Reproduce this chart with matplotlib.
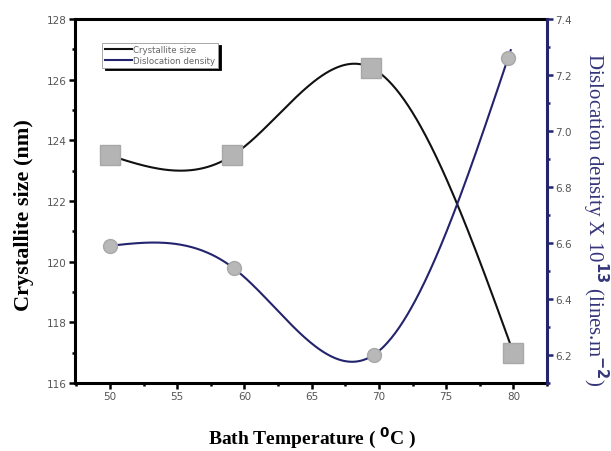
import numpy as np
import matplotlib
matplotlib.use("Agg")
import matplotlib.pyplot as plt
from matplotlib.ticker import MultipleLocator, FormatStrFormatter

# Data
temperature_size = [50, 59.1, 69.4, 80]
crystallite_size = [123.5, 123.5, 126.4, 117.0]
temperature_disl = [50, 59.2, 69.6, 79.6]
dislocation_density = [6.59, 6.51, 6.20, 7.26]
x_ticks = [50, 55, 60, 65, 70, 75, 80]
left_ticks = [116, 118, 120, 122, 124, 126, 128]
right_ticks = [6.2, 6.4, 6.6, 6.8, 7.0, 7.2, 7.4]


def natural_spline(x, y, xs):
    x = np.asarray(x, float); y = np.asarray(y, float)
    n = len(x)
    h = np.diff(x)
    A = np.zeros((n, n)); b = np.zeros(n)
    A[0, 0] = 1; A[-1, -1] = 1
    for i in range(1, n - 1):
        A[i, i - 1] = h[i - 1]
        A[i, i] = 2 * (h[i - 1] + h[i])
        A[i, i + 1] = h[i]
        b[i] = 6 * ((y[i + 1] - y[i]) / h[i] - (y[i] - y[i - 1]) / h[i - 1])
    M = np.linalg.solve(A, b)
    out = np.empty_like(xs)
    for k, xv in enumerate(xs):
        i = min(max(np.searchsorted(x, xv) - 1, 0), n - 2)
        t1 = x[i + 1] - xv; t0 = xv - x[i]
        out[k] = (M[i] * t1 ** 3 / (6 * h[i]) + M[i + 1] * t0 ** 3 / (6 * h[i])
                  + (y[i] / h[i] - M[i] * h[i] / 6) * t1
                  + (y[i + 1] / h[i] - M[i + 1] * h[i] / 6) * t0)
    return out


navy = "#23236e"
label_navy = "#35357a"
gray_txt = "#555555"

fig = plt.figure(figsize=(6.11, 4.52), dpi=100)
ax = fig.add_axes([0.1227, 0.1504, 0.7726, 0.8054])
ax2 = ax.twinx()

xs1 = np.linspace(temperature_size[0], temperature_size[-1], 300)
ys1 = natural_spline(temperature_size, crystallite_size, xs1)
l1, = ax.plot(xs1, ys1, color="#111111", lw=1.5, label="Crystallite size", zorder=2)
ax.plot(temperature_size, crystallite_size, ls="none", marker="s", ms=14,
        mfc="#b4b4b4", mec="#a8a8a8", zorder=3)

xs2 = np.linspace(temperature_disl[0], temperature_disl[-1] + 0.2, 300)
ys2 = natural_spline(temperature_disl, dislocation_density, xs2)
l2, = ax2.plot(xs2, ys2, color=navy, lw=1.5, label="Dislocation density", zorder=2)
ax2.plot(temperature_disl, dislocation_density, ls="none", marker="o", ms=10,
         mfc="#b8b8b8", mec="#a8a8a8", zorder=3)

ax.set_xlim(47.4, 82.5)
ax.set_ylim(116, 128)
ax2.set_ylim(6.1, 7.4)

ax.set_xticks(x_ticks)
ax.set_yticks(left_ticks)
ax2.set_yticks(right_ticks)
ax.xaxis.set_minor_locator(MultipleLocator(2.5))
ax.yaxis.set_minor_locator(MultipleLocator(1))
ax2.yaxis.set_minor_locator(MultipleLocator(0.1))

for a in (ax, ax2):
    for s in a.spines.values():
        s.set_linewidth(2.2)
ax2.spines["right"].set_color(navy)
ax.spines["right"].set_visible(False)
ax2.spines["left"].set_visible(False)
ax2.spines["top"].set_visible(False)
ax2.spines["bottom"].set_visible(False)

ax.tick_params(axis="both", which="major", direction="out", length=4, width=1.8,
               labelsize=7.5, labelcolor=gray_txt, pad=2)
ax.tick_params(axis="both", which="minor", direction="out", length=2.5, width=1.8)
ax2.tick_params(axis="y", which="major", direction="out", length=4, width=1.8,
                labelsize=7.5, labelcolor=gray_txt, color=navy, pad=2)
ax2.tick_params(axis="y", which="minor", direction="out", length=2.5, width=1.8, color=navy)
ax.yaxis.set_major_formatter(FormatStrFormatter("%d"))
ax2.yaxis.set_major_formatter(FormatStrFormatter("%.1f"))

ax.set_xlabel("Bath Temperature ( $^{\\mathbf{0}}$C )", family="Liberation Serif",
              fontweight="bold", fontsize=14)
ax.xaxis.set_label_coords(0.502, -0.116)
ax.set_ylabel("Crystallite size (nm)", family="Liberation Serif",
              fontweight="bold", fontsize=16)
ax.yaxis.set_label_coords(-0.087, 0.464)
ax2.set_ylabel("Dislocation density X 10$^{\\mathbf{13}}$ (lines.m$^{\\mathbf{-2}}$)",
               family="Liberation Serif", fontsize=15, color=label_navy,
               rotation=270, va="center")
ax2.yaxis.set_label_coords(1.102, 0.45)

leg = ax.legend(handles=[l1, l2], loc="upper left", bbox_to_anchor=(0.058, 0.935),
                fontsize=6.2, frameon=True, fancybox=False,
                shadow={"color": "black", "alpha": 1.0},
                handlelength=3.2, handletextpad=0.1, borderpad=0.3,
                labelspacing=0.2, borderaxespad=0)
leg.get_frame().set_edgecolor("#999999")
leg.get_frame().set_linewidth(0.6)
for t in leg.get_texts():
    t.set_color("#666666")

fig.savefig("out.png", dpi=100)
